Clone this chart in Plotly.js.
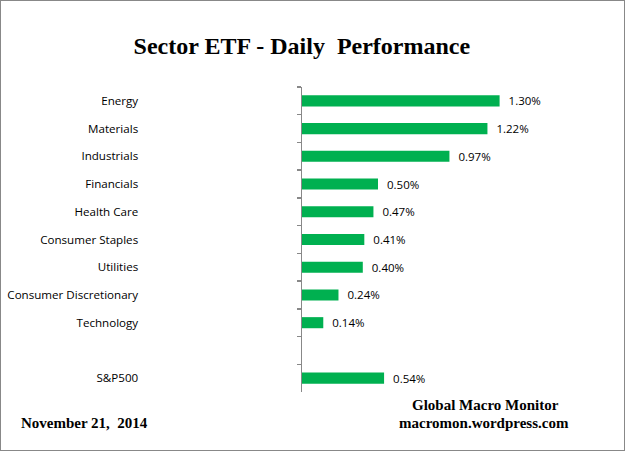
<!DOCTYPE html>
<html><head><meta charset="utf-8">
<script src="https://cdn.plot.ly/plotly-3.0.1.min.js"></script>
<style>
html,body{margin:0;padding:0;background:#fff;}
#wrap{position:relative;width:625px;height:451px;}
#chart{width:625px;height:451px;}
#frame{position:absolute;left:0;top:0;width:623px;height:449px;border:1px solid #888;pointer-events:none;}
</style></head>
<body>
<div id="wrap"><div id="chart"></div><div id="frame"></div></div>
<script>
const categories = ["Energy","Materials","Industrials","Financials","Health Care","Consumer Staples","Utilities","Consumer Discretionary","Technology"," ","S&P500"];
const values = [1.30,1.22,0.97,0.50,0.47,0.41,0.40,0.24,0.14,null,0.54];
const labels = values.map(v => v === null ? "" : "  " + v.toFixed(2) + "%");

const trace = {
  type: "bar", orientation: "h",
  y: categories, x: values,
  marker: {color: "#00B050"},
  text: labels, textposition: "outside", cliponaxis: false, constraintext: "none",
  textfont: {family: "Open Sans, Liberation Sans, sans-serif", size: 11.5, color: "#000"},
  hoverinfo: "skip"
};
const serif = "Liberation Serif, Times New Roman, serif";
const layout = {
  width: 625, height: 451,
  margin: {l: 302, r: 19, t: 87, b: 59, autoexpand: false},
  paper_bgcolor: "#fff", plot_bgcolor: "#fff",
  showlegend: false, bargap: 0.6,
  title: {text: "<b>Sector ETF - Daily  Performance</b>", font: {family: serif, size: 24, color: "#000"}, x: 0.483, xanchor: "center", y: 0.9, yanchor: "middle", yref: "container"},
  xaxis: {range: [0, 2], visible: false, fixedrange: true},
  yaxis: {
    type: "category", categoryorder: "array", categoryarray: categories,
    autorange: "reversed", automargin: false,
    showline: true, linecolor: "#888", linewidth: 1.5,
    ticks: "outside", tickson: "boundaries", ticklen: 4, tickcolor: "#888", tickwidth: 1.5,
    ticklabelstandoff: 160,
    tickfont: {family: "Open Sans, Liberation Sans, sans-serif", size: 11.6, color: "#000"},
    showgrid: false, zeroline: false, fixedrange: true
  },
  annotations: [
    {text: "<b>November 21,  2014</b>", xref: "paper", yref: "paper", x: -0.932, y: -0.1, xanchor: "left", yanchor: "middle", showarrow: false, font: {family: serif, size: 15, color: "#000"}},
    {text: "<b>Global Macro Monitor</b>", xref: "paper", yref: "paper", x: 0.603, y: -0.044, xanchor: "center", yanchor: "middle", showarrow: false, font: {family: serif, size: 15, color: "#000"}},
    {text: "<b>macromon.wordpress.com</b>", xref: "paper", yref: "paper", x: 0.6, y: -0.1, xanchor: "center", yanchor: "middle", showarrow: false, font: {family: serif, size: 15, color: "#000"}}
  ]
};
Plotly.newPlot("chart", [trace], layout, {staticPlot: true});
</script>
</body></html>
